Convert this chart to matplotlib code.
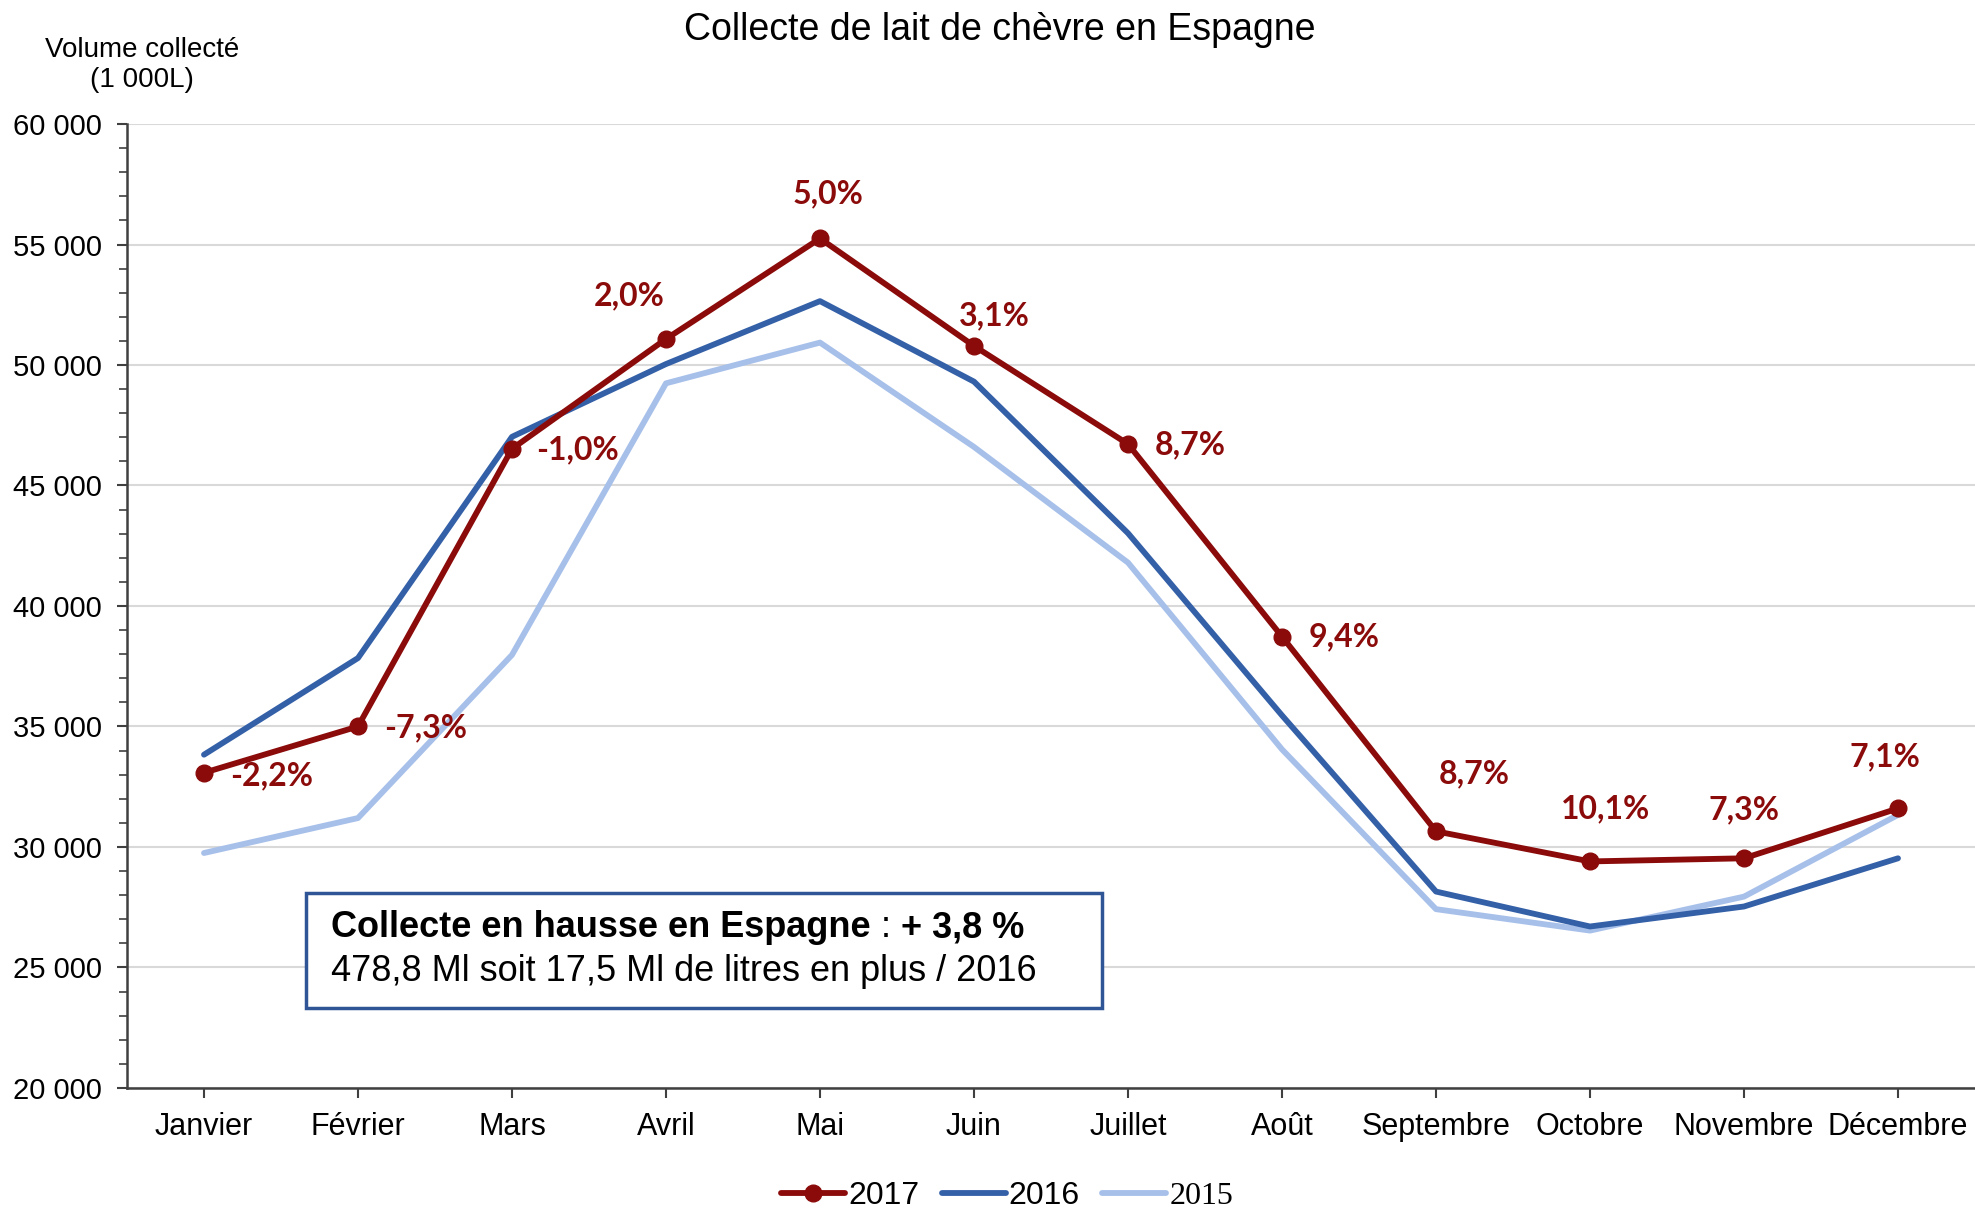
import matplotlib

matplotlib.use("Agg")

import matplotlib.pyplot as plt  # noqa: E402
from matplotlib.patches import Rectangle  # noqa: E402
from matplotlib.ticker import FuncFormatter, MultipleLocator  # noqa: E402

mois = ["Janvier", "Février", "Mars", "Avril", "Mai", "Juin", "Juillet",
        "Août", "Septembre", "Octobre", "Novembre", "Décembre"]
v2017 = [33080, 35000, 46520, 51080, 55250, 50790, 46720, 38730, 30650, 29400, 29530, 31600]
v2016 = [33830, 37840, 47020, 50040, 52650, 49310, 43020, 35460, 28150, 26700, 27530, 29530]
v2015 = [29750, 31200, 37970, 49240, 50930, 46600, 41800, 34050, 27420, 26530, 27940, 31330]
evolution = ["-2,2%", "-7,3%", "-1,0%", "2,0%", "5,0%", "3,1%",
             "8,7%", "9,4%", "8,7%", "10,1%", "7,3%", "7,1%"]

# label placement in pixels relative to each 2017 marker
label_offsets = [(68, -3), (68, -1), (66, -1), (-37, 43), (8, 45), (20, 30),
                 (62, -1), (62, 0), (38, 57), (16, 53), (0, 48), (-13, 52)]

RED = "#8B0A0A"
BLUE = "#3460A8"
LIGHT = "#A7C0EA"

plt.rcParams["font.family"] = ["Liberation Sans", "DejaVu Sans"]

fig = plt.figure(figsize=(19.75, 12.11), dpi=100)
ax = fig.add_axes([0.0643, 0.1016, 0.9357, 0.796])

x = range(len(mois))
ax.plot(x, v2015, color=LIGHT, lw=4.2, label="2015", solid_capstyle="round", zorder=2)
ax.plot(x, v2016, color=BLUE, lw=4.2, label="2016", solid_capstyle="round", zorder=3)
ax.plot(x, v2017, color=RED, lw=4.2, marker="o", markersize=12, label="2017",
        solid_capstyle="round", zorder=4)

for i, (val, txt) in enumerate(zip(v2017, evolution)):
    ax.annotate(txt, xy=(i, val), xytext=label_offsets[i], textcoords="offset pixels",
                ha="center", va="center", color=RED, fontsize=23, fontweight="bold",
                family=["Lato", "DejaVu Sans"], zorder=5)

ax.set_xlim(-0.5, 11.5)
ax.set_ylim(20000, 60000)
ax.yaxis.set_major_locator(MultipleLocator(5000))
ax.yaxis.set_minor_locator(MultipleLocator(1000))
ax.yaxis.set_major_formatter(FuncFormatter(lambda v, _: f"{int(v):,}".replace(",", " ")))
ax.set_xticks(list(x))
ax.set_xticklabels(mois)
ax.tick_params(axis="both", colors="#404040", labelcolor="black")
ax.tick_params(axis="y", which="major", length=7, width=1.5, pad=11, labelsize=21)
ax.tick_params(axis="y", which="minor", length=6, width=1.2, colors="#404040")
ax.tick_params(axis="x", length=7, width=1.5, pad=10, labelsize=22)
ax.grid(axis="y", which="major", color="#D9D9D9", lw=1.5)
ax.set_axisbelow(True)
for side in ("top", "right"):
    ax.spines[side].set_visible(False)
for side in ("left", "bottom"):
    ax.spines[side].set_color("#404040")
    ax.spines[side].set_linewidth(1.8)

fig.text(0.506, 0.975, "Collecte de lait de chèvre en Espagne", ha="center", va="center",
         fontsize=27)
fig.text(0.072, 0.946, "Volume collecté\n(1 000L)", ha="center", va="center",
         multialignment="center", fontsize=20, linespacing=1.2)

# summary box, drawn in the axes so its texts stack above it
ax.add_patch(Rectangle((0.155, 0.1677), 0.403, 0.095, transform=fig.transFigure,
                       facecolor="white", edgecolor="#2F5597", lw=2.5, zorder=6,
                       clip_on=False))
t1 = ax.text(0.1676, 0.2337, "Collecte en hausse en Espagne", transform=fig.transFigure,
             ha="left", va="center", fontsize=26, fontweight="bold", zorder=7)
t2 = ax.annotate(" : ", xy=(1, 0), xycoords=t1, ha="left", va="bottom", fontsize=26,
                 annotation_clip=False, zorder=7)
ax.annotate("+ 3,8 %", xy=(1, 0), xycoords=t2, ha="left", va="bottom", fontsize=26,
            fontweight="bold", annotation_clip=False, zorder=7)
ax.text(0.1676, 0.1974, "478,8 Ml soit 17,5 Ml de litres en plus / 2016",
        transform=fig.transFigure, ha="left", va="center", fontsize=26, zorder=7)

handles, labels = ax.get_legend_handles_labels()
order = [2, 1, 0]
leg = fig.legend([handles[i] for i in order], [labels[i] for i in order], loc="center",
                 bbox_to_anchor=(0.51, 0.012), ncol=3, frameon=False, fontsize=23,
                 handlelength=2.0, handletextpad=0.1, columnspacing=0.7)
leg.get_texts()[2].set_family(["Liberation Serif", "DejaVu Serif"])

fig.savefig("out.png", dpi=100)
